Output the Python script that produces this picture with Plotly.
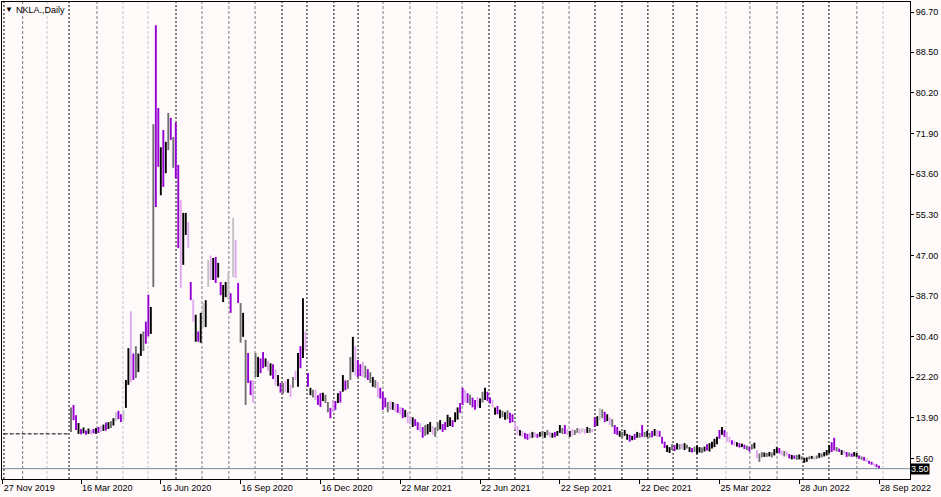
import plotly.graph_objects as go

# ---------------- data ----------------
# pre-listing flat closes (bars 1..27)
pre_close = [10.6, 10.6, 10.6, 10.6, 10.6, 10.6, 10.6, 10.6, 10.6, 10.6,
             10.6, 10.6, 10.6, 10.6, 10.6, 10.6, 10.6, 10.6, 10.6, 10.6,
             10.6, 10.6, 10.6, 10.6, 10.6, 10.6, 10.6]

# bar lows / highs (every bar = two trading days), starting at bar 28
low = [
    11.0, 13.4, 11.4, 10.6,
    10.5, 10.7, 10.4, 10.6, 10.5, 10.7, 10.6, 10.8, 11.0, 11.2, 11.3, 11.6, 11.8, 12.3, 13.2, 13.6,
    13.0, 13.3, 15.9, 20.6, 21.2, 21.6, 22.0, 23.2, 26.5, 27.5, 29.0, 30.5, 31.0, 40.6, 56.9, 65.1,
    59.3, 61.0, 63.8, 68.5, 70.6, 64.9, 62.8, 48.5, 40.4, 45.1, 51.2, 48.5, 37.9, 33.5, 29.4, 29.4,
    29.2, 32.4, 32.4, 40.6, 42.0, 42.0, 41.4, 42.5, 38.9, 37.5, 38.5, 38.0, 35.3, 42.6, 42.4, 37.3,
    29.2, 30.4, 16.5, 21.0, 18.5, 17.0, 22.2, 22.2, 23.0, 24.0, 24.3, 23.5, 22.5, 21.8, 20.5, 20.3,
    19.0, 18.8, 19.2, 19.0, 18.1, 20.0, 21.6, 20.2, 24.0, 26.1, 27.5, 20.2, 18.5, 18.0, 17.5, 16.5,
    16.1, 17.3, 16.9, 15.0, 13.8, 15.1, 15.5, 16.9, 17.0, 19.2, 19.5, 19.8, 21.6, 23.2, 22.5, 22.2,
    22.4, 22.2, 22.0, 21.6, 21.0, 20.2, 20.0, 18.0, 17.8, 15.5, 16.0, 15.0, 15.5, 15.5, 15.1, 14.9,
    14.5, 13.8, 14.0, 12.8, 12.5, 12.0, 12.2, 11.4, 11.0, 9.8, 10.2, 10.5, 11.0, 10.4, 10.0, 11.2,
    11.5, 11.0, 11.4, 12.0, 12.2, 12.0, 13.0, 13.5, 14.9, 16.5, 17.0, 16.9, 16.5, 16.0, 15.5, 16.0,
    15.9, 17.0, 17.5, 17.3, 16.8, 16.0, 14.5, 14.6, 13.8, 14.0, 13.5, 13.6, 12.8, 13.0, 11.5, 10.4,
    10.2, 10.0, 9.6, 9.4, 9.6, 9.8, 9.9, 9.8, 10.0, 10.1, 9.8, 10.3, 9.9, 9.8, 9.9, 10.2,
    10.8, 10.6, 10.6, 10.4, 10.0, 10.2, 10.4, 10.8, 10.6, 10.9, 10.6, 10.8, 10.8, 10.9, 12.0, 12.2,
    13.4, 13.8, 13.0, 13.2, 12.4, 12.0, 10.6, 10.4, 10.0, 9.8, 10.2, 9.4, 9.0, 9.3, 9.4, 9.8,
    9.8, 10.0, 9.9, 10.0, 9.8, 9.9, 10.2, 10.0, 10.0, 8.6, 7.7, 6.9, 6.7, 7.3, 7.1, 7.4,
    7.4, 7.5, 7.3, 7.6, 6.9, 6.8, 6.9, 6.5, 6.8, 6.7, 7.0, 7.2, 7.0, 7.6, 7.9, 8.5,
    9.6, 10.4, 10.0, 9.0, 8.8, 8.4, 8.2, 8.0, 7.8, 7.9, 7.5, 7.3, 7.0, 7.4, 7.6, 5.6,
    4.9, 5.8, 5.9, 5.9, 6.0, 5.8, 6.2, 6.7, 6.6, 6.2, 6.0, 6.2, 5.6, 5.4, 5.5, 5.3,
    5.4, 5.3, 4.7, 4.9, 5.4, 5.5, 5.3, 5.5, 5.7, 5.8, 6.0, 6.2, 6.7, 6.9, 7.2, 7.0,
    6.9, 6.3, 6.4, 5.9, 6.0, 5.9, 6.0, 5.9, 5.5, 5.3, 5.1, 4.9, 4.5, 4.3, 4.0, 3.8, 3.5,
]
high = [
    16.0, 16.5, 14.4, 12.8,
    11.6, 11.9, 11.3, 11.7, 11.4, 11.6, 11.8, 12.0, 12.2, 12.5, 12.9, 13.0, 13.2, 13.8, 15.0, 15.3,
    14.6, 15.5, 21.6, 28.1, 35.6, 27.0, 28.5, 27.0, 31.0, 31.5, 33.5, 39.0, 36.5, 73.8, 94.0, 77.1,
    69.1, 72.6, 70.2, 76.1, 75.1, 71.2, 74.1, 65.5, 58.3, 55.7, 55.7, 53.8, 41.6, 38.0, 34.9, 31.5,
    35.3, 37.3, 37.9, 46.1, 47.0, 46.5, 46.7, 45.5, 41.6, 41.0, 41.6, 43.5, 39.3, 54.7, 50.2, 41.4,
    37.3, 35.3, 29.8, 27.1, 21.5, 21.5, 27.1, 26.3, 26.0, 27.3, 26.0, 25.5, 25.0, 24.8, 23.8, 22.6,
    21.0, 21.0, 21.5, 21.8, 20.6, 22.2, 23.5, 27.1, 28.5, 38.3, 31.5, 23.0, 20.0, 19.6, 19.6, 18.5,
    18.9, 19.0, 18.6, 17.1, 15.9, 17.5, 17.3, 18.9, 19.3, 22.6, 21.5, 21.6, 26.3, 30.4, 28.5, 25.7,
    24.8, 25.3, 24.5, 23.8, 23.2, 22.2, 21.6, 21.2, 20.0, 19.2, 18.0, 17.1, 17.3, 17.1, 16.9, 16.7,
    16.1, 15.9, 15.5, 15.1, 14.2, 14.0, 13.6, 13.0, 12.8, 12.0, 12.4, 12.6, 13.0, 12.2, 11.9, 13.0,
    13.4, 12.6, 13.0, 14.5, 14.0, 13.4, 15.0, 16.0, 16.9, 20.0, 19.6, 18.9, 18.6, 18.0, 17.5, 18.1,
    17.8, 19.2, 20.0, 19.2, 18.0, 17.5, 16.0, 16.3, 15.5, 15.3, 15.0, 15.4, 14.9, 14.6, 13.0, 12.2,
    11.4, 11.2, 10.8, 10.6, 10.8, 11.0, 10.9, 10.6, 11.0, 11.2, 11.0, 11.4, 11.0, 10.8, 11.0, 11.2,
    12.4, 11.8, 12.4, 11.6, 11.2, 11.6, 11.4, 11.8, 11.6, 11.8, 11.6, 12.0, 11.8, 11.6, 14.0, 14.2,
    15.9, 15.6, 15.1, 14.6, 14.0, 13.6, 12.4, 12.0, 11.2, 11.0, 11.4, 10.6, 10.4, 10.2, 10.6, 11.0,
    10.8, 12.4, 11.0, 11.2, 10.8, 11.2, 11.6, 11.4, 11.2, 10.0, 9.0, 8.3, 7.9, 8.5, 8.3, 8.7,
    8.5, 8.6, 8.7, 8.4, 7.9, 7.7, 8.0, 8.3, 7.9, 7.8, 8.0, 8.5, 8.7, 9.0, 9.6, 10.0,
    11.4, 12.0, 11.4, 11.0, 10.0, 9.3, 9.1, 8.9, 8.7, 8.6, 8.4, 8.2, 8.0, 8.5, 8.8, 7.3,
    6.6, 6.9, 6.8, 6.7, 6.9, 6.8, 7.5, 7.9, 7.7, 7.2, 7.1, 7.0, 6.5, 6.3, 6.2, 6.3,
    6.4, 6.0, 5.7, 5.8, 6.0, 6.1, 6.0, 6.2, 6.7, 6.6, 6.9, 7.3, 8.3, 8.9, 9.8, 7.9,
    7.6, 7.3, 7.2, 6.9, 6.8, 6.6, 6.9, 6.7, 6.2, 6.0, 5.9, 5.6, 5.1, 4.9, 4.6, 4.4, 4.1,
]
# bar tone: p=violet, v=light violet, k=black, g=grey, l=light grey
tone = ("gppk"
        "pkpkvpkpvkpkgklpplkkvpgkkgppkgpp"
        "kpkgpgppvkkvpvkpklklvkpkpkklplvp"
        "gkgppvgkppkvkpvkpgvkvgvkpkvpkgvp"
        "pkggpvpkpkpggkvppvgpgkgvpppgvkvp"
        "vpkvvkppvpgkkvggkppkkpkkppvpgppv"
        "kgkppvkpkgkgppvvkvppvkvpkgkgvkpk"
        "kgpvkvggvlvkgvpklgpkvgppkgkkpkpk"
        "gpgkgpkvpppkkgpkgvkgkpgkkgkpkkkk"
        "pkpvvpvkpkpgpgkvggkgkgkkpvgvpkpg"
        "kgkkgklgkgkkkppgpkvpgpkkpgpvppvpp")

last_price = 3.50

price_ticks = [96.70, 88.50, 80.20, 71.90, 63.60, 55.30, 47.00, 38.70, 30.40, 22.20, 13.90, 5.60]
date_ticks = [0.6, 32, 64, 96, 128, 160, 192, 224, 256, 288, 320, 352]
date_labels = ["27 Nov 2019", "16 Mar 2020", "16 Jun 2020", "16 Sep 2020", "16 Dec 2020",
               "22 Mar 2021", "22 Jun 2021", "22 Sep 2021", "22 Dec 2021", "25 Mar 2022",
               "28 Jun 2022", "28 Sep 2022"]
# month boundaries on the bar axis
month_starts = [1.1, 8.6, 18.4, 27.2, 38.4, 48.8, 58.9, 70.1, 80.5, 91.3, 101.8, 112.6,
                122.6, 133.4, 143.1, 153.1, 163.9, 174.7, 184.8, 195.6, 206.0, 217.2,
                227.7, 238.1, 248.9, 259.3, 269.4, 279.0, 290.6, 300.2, 311.1, 321.5,
                331.9, 343.1, 353.6]

# ---------------- styling ----------------
grid_style = "KGLKGLLKGGGKKKKGGLGKKGGKKKKKLGGKKGL"
grid_fmt = {"K": dict(color="#000000", dash="2px,2px"),
            "G": dict(color="#7c7c7c", dash="3px,2px"),
            "L": dict(color="#c4c4c4", dash="3px,2px")}
palette = [("l", "#c3c3c3"), ("v", "#dfa8ef"), ("g", "#707070"), ("p", "#9400d3"), ("k", "#000000")]
FONT = "Liberation Sans, Arial, sans-serif"
BG = "#fffafa"

x_pre = list(range(1, 1 + len(pre_close)))
x_bars = list(range(28, 28 + len(low)))
assert len(low) == len(high) == len(tone)

fig = go.Figure()
fig.add_trace(go.Scatter(x=x_pre, y=pre_close, mode="lines",
                         line=dict(color="#000000", width=1, dash="4px,2px"),
                         hoverinfo="skip", showlegend=False))
for code, col in palette:
    xs, ys = [], []
    for xi, lo, hi, t in zip(x_bars, low, high, tone):
        if t == code:
            xs += [xi, xi, None]
            ys += [lo, hi, None]
    fig.add_trace(go.Scatter(x=xs, y=ys, mode="lines", line=dict(color=col, width=1.9),
                             hoverinfo="skip", showlegend=False, connectgaps=False))

shapes = []
for pos, st in zip(month_starts, grid_style):
    f = grid_fmt[st]
    shapes.append(dict(type="line", xref="x", yref="paper", x0=pos, x1=pos, y0=0, y1=1,
                       line=dict(color=f["color"], width=1, dash=f["dash"]), layer="below"))
shapes.append(dict(type="line", xref="paper", yref="y", x0=0, x1=1, y0=last_price, y1=last_price,
                   line=dict(color="#778899", width=1), layer="above"))

fig.update_layout(
    width=941, height=497,
    margin=dict(l=2, r=31, t=2, b=18),
    paper_bgcolor=BG, plot_bgcolor=BG,
    font=dict(family=FONT, size=9, color="#000000"),
    shapes=shapes,
    showlegend=False,
    xaxis=dict(range=[0.32, 364.4], tickmode="array", tickvals=date_ticks, ticktext=date_labels,
               ticks="outside", ticklen=4, tickcolor="#000000", tickwidth=1,
               ticklabelposition="outside right",
               showgrid=False, zeroline=False, showline=True, mirror=True,
               linecolor="#000000", linewidth=1, tickfont=dict(size=9, family=FONT)),
    yaxis=dict(side="right", range=[1.39, 98.74], tickmode="array", tickvals=price_ticks,
               ticktext=["%.2f" % v for v in price_ticks],
               ticks="outside", ticklen=3, tickcolor="#000000", tickwidth=1,
               showgrid=False, zeroline=False, showline=True, mirror=True,
               linecolor="#000000", linewidth=1, tickfont=dict(size=9, family=FONT)),
    annotations=[
        dict(xref="paper", yref="paper", x=0, y=1, xanchor="left", yanchor="top",
             xshift=1, yshift=-1, text="▼", showarrow=False, font=dict(size=8, color="#000000")),
        dict(xref="paper", yref="paper", x=0, y=1, xanchor="left", yanchor="top",
             xshift=12, yshift=-1, text="NKLA.,Daily", showarrow=False,
             font=dict(size=9, color="#000000")),
        dict(xref="paper", yref="y", x=1, y=last_price, xanchor="left", yanchor="middle",
             text="%.2f" % last_price, showarrow=False, bgcolor="#000000", borderpad=0,
             xshift=0, font=dict(size=9, color="#ffffff")),
    ],
)

fig.write_html("out.html", config={"displayModeBar": False},
               post_script="document.body.style.margin='0px';document.body.style.padding='0px';"
                           "document.body.style.overflow='hidden';document.body.style.background='%s';" % BG)
